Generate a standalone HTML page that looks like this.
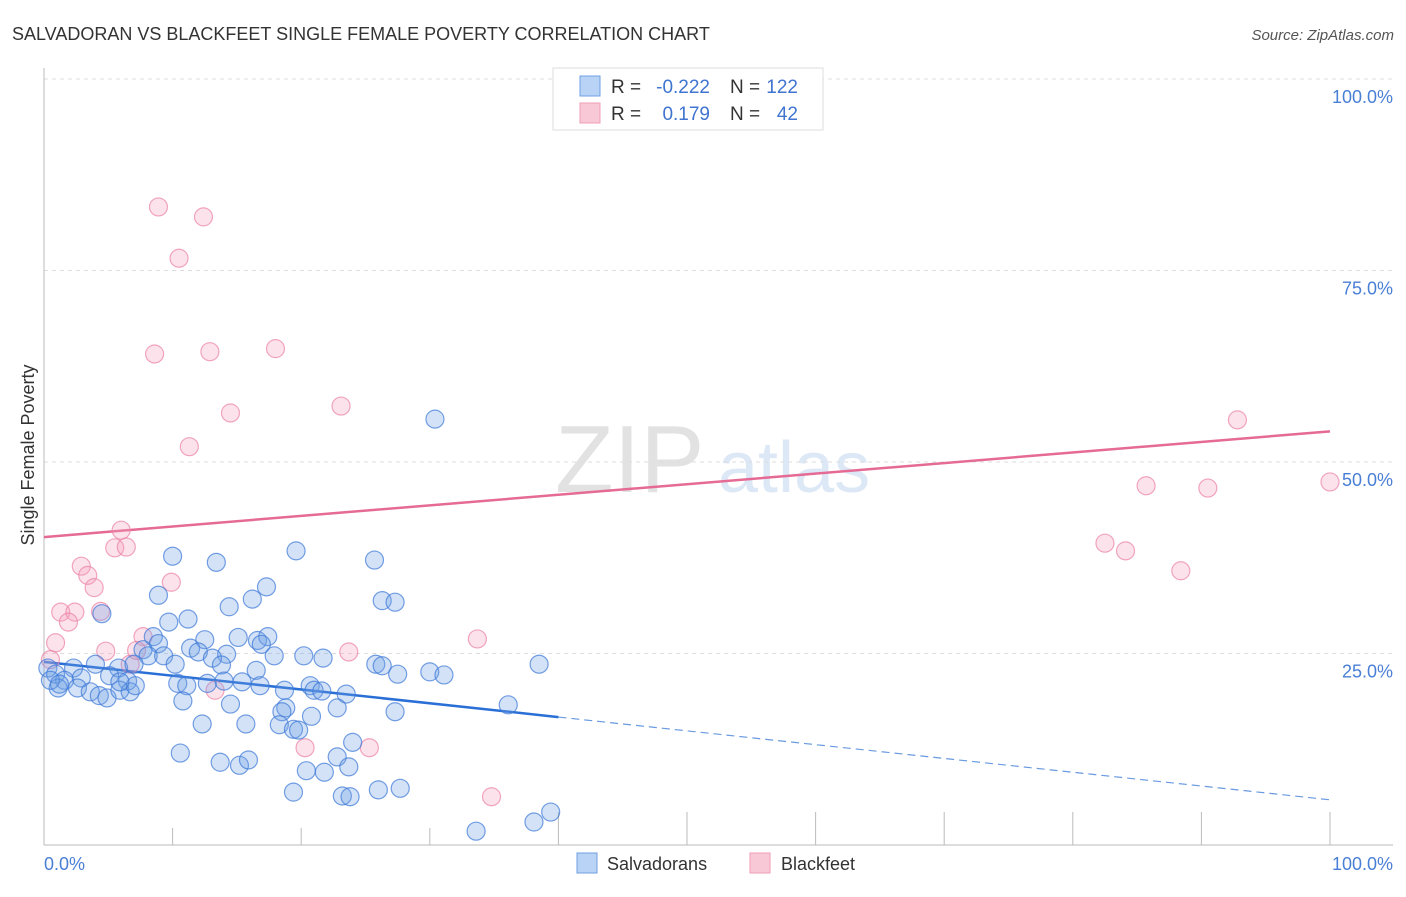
<!DOCTYPE html>
<html><head><meta charset="utf-8"><style>
body{margin:0;background:#fff;font-family:"Liberation Sans",sans-serif;}
svg text{font-family:"Liberation Sans",sans-serif;}
</style></head><body>
<svg id="chart" width="1406" height="892" xmlns="http://www.w3.org/2000/svg">
<text x="12" y="40" font-size="18" fill="#333">SALVADORAN VS BLACKFEET SINGLE FEMALE POVERTY CORRELATION CHART</text>
<text x="1394" y="40" font-size="15" fill="#555" font-style="italic" text-anchor="end">Source: ZipAtlas.com</text>
<g>
<text x="555" y="492" font-size="96" font-family="Liberation Serif" fill="#e2e2e2">ZIP</text>
<text x="718" y="492" font-size="72" fill="#dde8f6">atlas</text>
</g>
<g id="grid"></g>
<g id="axes"></g>
<g id="lines"></g>
<g id="pts"></g>
<text transform="translate(34,455) rotate(-90)" font-size="18" fill="#333" text-anchor="middle">Single Female Poverty</text>
<text x="44" y="870" font-size="18" fill="#4a7fd6">0.0%</text>
<text x="1393" y="870" font-size="18" fill="#4a7fd6" text-anchor="end">100.0%</text>
<g>
<rect x="553" y="68" width="270" height="62" fill="#fff" stroke="#ddd"/>
<rect x="580" y="76" width="20" height="20" fill="#b8d3f5" stroke="#6f9fe0"/>
<rect x="580" y="103" width="20" height="20" fill="#f9c8d6" stroke="#ee9fb6"/>
<text x="611" y="93" font-size="19" fill="#333">R = </text><text x="710" y="93" font-size="19" fill="#3f74d0" text-anchor="end">-0.222</text>
<text x="730" y="93" font-size="19" fill="#333">N = </text><text x="798" y="93" font-size="19" fill="#3f74d0" text-anchor="end">122</text>
<text x="611" y="120" font-size="19" fill="#333">R = </text><text x="710" y="120" font-size="19" fill="#3f74d0" text-anchor="end">0.179</text>
<text x="730" y="120" font-size="19" fill="#333">N = </text><text x="798" y="120" font-size="19" fill="#3f74d0" text-anchor="end">42</text>
</g>
<g>
<rect x="577" y="853" width="20" height="20" fill="#b8d3f5" stroke="#6f9fe0"/>
<text x="607" y="870" font-size="18" fill="#333">Salvadorans</text>
<rect x="750" y="853" width="20" height="20" fill="#f9c8d6" stroke="#ee9fb6"/>
<text x="781" y="870" font-size="18" fill="#333">Blackfeet</text>
</g>
</svg>
<script>
const yTicks=[25,50,75,100];
const yTickLabels=["25.0%","50.0%","75.0%","100.0%"];
const xTicks=[0,10,20,30,40,50,60,70,80,90,100];
const blueX=[30.4,10.0,13.4,19.6,25.7,17.3,8.9,16.2,14.4,26.3,27.3,4.5,11.2,9.7,15.1,12.5,16.6,17.4,8.5,8.9,11.4,12.0,14.2,16.9,17.9,20.2,21.7,7.7,8.1,9.3,10.2,13.1,13.8,4.0,5.8,7.0,16.5,25.8,26.3,27.5,30.0,31.1,38.5,0.3,0.9,2.3,1.6,2.9,5.1,6.5,10.4,11.1,12.7,14.0,15.4,16.8,18.7,20.7,21.0,21.6,23.5,1.1,2.6,3.6,4.3,4.9,5.9,6.7,10.8,14.5,18.8,22.8,27.3,36.1,20.8,18.5,12.3,15.7,18.3,19.4,19.8,24.0,10.6,22.8,13.7,15.2,15.9,23.7,20.4,21.8,19.4,23.2,23.8,26.0,27.7,39.4,38.1,33.6,0.5,1.2,7.1,5.9];
const blueY=[55.6,37.7,36.9,38.4,37.2,33.7,32.6,32.1,31.1,31.9,31.7,30.2,29.5,29.1,27.1,26.8,26.7,27.2,27.2,26.3,25.7,25.2,24.9,26.2,24.7,24.7,24.4,25.5,24.7,24.7,23.6,24.4,23.5,23.6,23.1,23.6,22.8,23.6,23.4,22.3,22.6,22.2,23.6,23.1,22.3,23.1,21.5,21.8,22.1,21.4,21.1,20.8,21.1,21.4,21.3,20.8,20.2,20.8,20.2,20.1,19.7,20.5,20.5,20.0,19.5,19.2,20.2,20.0,18.8,18.4,17.9,17.9,17.4,18.3,16.8,17.4,15.8,15.8,15.7,15.1,15.0,13.4,12.0,11.5,10.8,10.4,11.1,10.2,9.7,9.5,6.9,6.4,6.3,7.2,7.4,4.3,3.0,1.8,21.5,21.0,20.8,21.3];
const pinkX=[41.1,43.2,47.5,8.9,12.4,10.5,8.6,12.9,18.0,14.5,23.1,11.3,92.8,85.7,90.5,100,82.5,84.1,88.4,6.0,5.5,6.4,2.9,3.4,3.9,9.9,1.3,2.4,1.9,4.4,0.9,4.8,7.7,33.7,23.7,0.5,6.7,13.3,20.3,25.3,34.8,7.2];
const pinkY=[99.9,99.9,99.9,83.3,82.0,76.6,64.1,64.4,64.8,56.4,57.3,52.0,55.5,46.9,46.6,47.4,39.4,38.4,35.8,41.1,38.8,38.9,36.4,35.2,33.6,34.3,30.4,30.4,29.1,30.5,26.4,25.3,27.2,26.9,25.2,24.2,23.6,20.2,12.7,12.7,6.3,25.4];
const blueTrend=[23.9,5.9]; // y at x=0, x=100
const blueSolidEnd=40;
const pinkTrend=[40.2,54.0];
const NS="http://www.w3.org/2000/svg";
const X=v=>44+v*12.86, Y=v=>845-v*7.66;
function mk(t,a,p){const e=document.createElementNS(NS,t);for(const k in a)e.setAttribute(k,a[k]);p.appendChild(e);return e;}
const grid=document.getElementById('grid'),axes=document.getElementById('axes'),lines=document.getElementById('lines'),pts=document.getElementById('pts');
yTicks.forEach((t,i)=>{
 const l=mk('line',{x1:44,x2:1393,y1:Y(t),y2:Y(t),stroke:'#ddd','stroke-dasharray':'4,4'},grid);
 
 
 const tx=mk('text',{x:1393,y:Y(t)+24,'font-size':18,fill:'#4a7fd6','text-anchor':'end'},axes);
 tx.textContent=yTickLabels[i];
 
 
});
mk('line',{x1:44,x2:44,y1:68,y2:845,stroke:'#bbb'},axes);
mk('line',{x1:44,x2:1393,y1:845,y2:845,stroke:'#bbb'},axes);
xTicks.forEach(t=>{
 const l=mk('line',{x1:X(t),x2:X(t),y1:t<40?828:812,y2:845,stroke:'#bbb'},axes);
 
 
});
function dots(xs,ys,fill,stroke,name){
 xs.forEach((x,i)=>{
  const c=mk('circle',{cx:X(x),cy:Y(ys[i]),r:9,fill:fill,stroke:stroke,'stroke-width':1.2},pts);
  
  
 });
}
dots(pinkX,pinkY,'rgba(245,160,188,0.3)','rgba(235,130,165,0.7)','blackfeet-point');
dots(blueX,blueY,'rgba(110,160,230,0.3)','rgba(60,120,215,0.7)','salvadoran-point');
const by=x=>blueTrend[0]+(blueTrend[1]-blueTrend[0])*x/100;
let l1=mk('line',{x1:X(0),y1:Y(by(0)),x2:X(blueSolidEnd),y2:Y(by(blueSolidEnd)),stroke:'#2a6fd6','stroke-width':2.5},lines);


let l2=mk('line',{x1:X(blueSolidEnd),y1:Y(by(blueSolidEnd)),x2:X(100),y2:Y(by(100)),stroke:'#6a9ae0','stroke-width':1.2,'stroke-dasharray':'8,5'},lines);


let l3=mk('line',{x1:X(0),y1:Y(pinkTrend[0]),x2:X(100),y2:Y(pinkTrend[1]),stroke:'#e56a94','stroke-width':2.5},lines);


</script>
</body></html>
